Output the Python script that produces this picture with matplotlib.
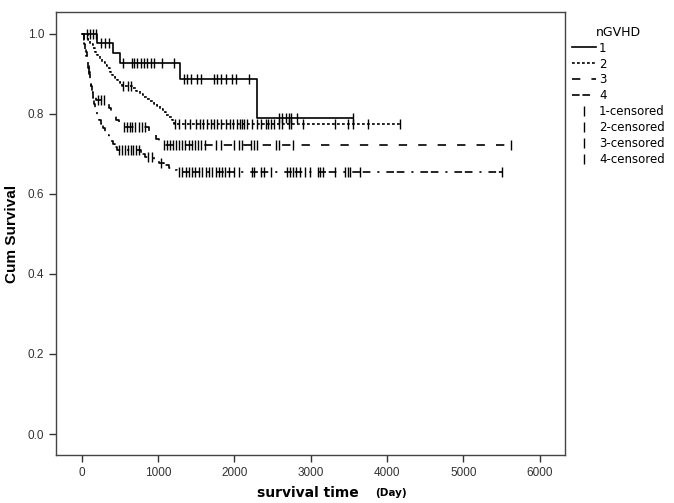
import numpy as np
import matplotlib
matplotlib.use("Agg")
import matplotlib.pyplot as plt
from matplotlib.lines import Line2D

plt.rcParams["lines.scale_dashes"] = False

# Kaplan-Meier step points (time in days, cum survival)
g1_times = [0, 195, 415, 495, 1290, 2290]
g1_surv = [1.0, 0.976, 0.952, 0.928, 0.887, 0.789]
g1_end = 3555
g1_cens = [65, 104, 143, 182, 250, 300, 350,
           534, 651, 690, 729, 781, 820, 859, 911, 950, 1055, 1211,
           1341, 1380, 1432, 1510, 1562, 1732, 1771, 1823, 1888, 1966, 2018, 2187,
           2578, 2617, 2669, 2708, 2747, 2825, 3555]

g2_times = [0, 78, 104, 143, 169, 195, 234, 260, 299, 326, 365, 391, 430, 456, 495, 521,
            664, 716, 768, 807, 859, 898, 950, 990, 1029, 1068, 1107, 1146, 1185, 1211]
g2_surv = [1.0, 0.985, 0.975, 0.965, 0.955, 0.948, 0.937, 0.93, 0.922, 0.915, 0.905, 0.898,
           0.89, 0.884, 0.876, 0.870, 0.865, 0.858, 0.85, 0.843, 0.838, 0.832, 0.826, 0.82,
           0.812, 0.806, 0.798, 0.792, 0.784, 0.776]
g2_end = 4166
g2_cens = [540, 600, 650,
           1224, 1276, 1354, 1419, 1497, 1549, 1588, 1641, 1693, 1732, 1771, 1823, 1888,
           1940, 1979, 2031, 2070, 2096, 2122, 2161, 2226, 2291, 2344, 2409, 2435, 2474,
           2513, 2578, 2617, 2708, 2747, 2903, 3320, 3489, 3554, 3750, 4166]

g3_times = [0, 26, 39, 52, 65, 78, 91, 104, 117, 130, 156, 182, 326, 352, 378, 404, 443,
            482, 521, 885, 924, 977, 1016, 1055]
g3_surv = [1.0, 0.985, 0.97, 0.955, 0.94, 0.92, 0.905, 0.885, 0.87, 0.855, 0.845, 0.835,
           0.825, 0.815, 0.805, 0.795, 0.785, 0.776, 0.768, 0.758, 0.748, 0.738, 0.73, 0.722]
g3_end = 5625
g3_cens = [208, 247, 286,
           547, 586, 625, 664, 703, 755, 794, 833,
           1081, 1120, 1159, 1198, 1237, 1276, 1315, 1354, 1406, 1445, 1484, 1523, 1562,
           1615, 1758, 1823, 1992, 2057, 2096, 2213, 2252, 2291, 2539, 2578, 2773, 5625]

g4_times = [0, 26, 39, 52, 65, 78, 91, 104, 117, 130, 143, 156, 169, 195, 221, 247, 273,
            299, 326, 352, 378, 404, 430, 456, 781, 833, 950, 1016, 1081, 1146, 1198, 1250]
g4_surv = [1.0, 0.975, 0.96, 0.945, 0.93, 0.915, 0.9, 0.885, 0.87, 0.855, 0.84, 0.825,
           0.81, 0.795, 0.785, 0.775, 0.765, 0.755, 0.748, 0.74, 0.732, 0.725, 0.718, 0.71,
           0.70, 0.692, 0.685, 0.678, 0.672, 0.666, 0.661, 0.656]
g4_end = 5508
g4_cens = [482, 521, 560, 599, 638, 677, 716, 755, 872, 924, 1042,
           1276, 1315, 1367, 1406, 1445, 1484, 1536, 1575, 1628, 1667, 1706, 1758, 1797,
           1836, 1875, 1927, 1992, 2057, 2226, 2252, 2344, 2383, 2474, 2682, 2734, 2773,
           2812, 2864, 2929, 2994, 3098, 3124, 3163, 3320, 3450, 3489, 3515, 3646, 5508]

groups = ["1", "2", "3", "4"]
styles = ["-", (0, (2, 1.6)), (0, (6, 8)), (0, (5.5, 2, 5.5, 5, 1.5, 5))]

fig = plt.figure(figsize=(6.74, 5.03), dpi=100)
ax = fig.add_axes([0.083, 0.0954, 0.755, 0.881])

data = [(g1_times, g1_surv, g1_end, g1_cens),
        (g2_times, g2_surv, g2_end, g2_cens),
        (g3_times, g3_surv, g3_end, g3_cens),
        (g4_times, g4_surv, g4_end, g4_cens)]

for (t, s, end, cens), ls in zip(data, styles):
    x = t + [end]
    y = s + [s[-1]]
    ax.step(x, y, where="post", color="black", lw=1.2, linestyle=ls)
    idx = np.searchsorted(t, cens, side="right") - 1
    ax.plot(cens, np.array(s)[idx], linestyle="none", marker="|", color="black",
            markersize=7, markeredgewidth=1.0)

ax.set_xlim(-339, 6328)
ax.set_ylim(-0.0525, 1.055)
ax.set_xticks(np.arange(0, 6001, 1000))
ax.set_yticks(np.arange(0, 1.01, 0.2))
ax.set_yticklabels(["%.1f" % v for v in np.arange(0, 1.01, 0.2)])
ax.tick_params(direction="out", length=5, width=1, colors="#333333", labelsize=8.5)
for lab in ax.get_xticklabels() + ax.get_yticklabels():
    lab.set_fontfamily("Liberation Sans")
for sp in ax.spines.values():
    sp.set_color("#444444")
    sp.set_linewidth(1.0)

ax.set_ylabel("Cum Survival", fontsize=11, fontweight="bold", family="Liberation Sans",
              labelpad=6)
fig.text(0.381, 0.02, "survival time", fontsize=10, fontweight="bold", ha="left", va="center")
fig.text(0.556, 0.02, "(Day)", fontsize=7.5, fontweight="bold", ha="left", va="center")

handles = [Line2D([], [], color="black", lw=1.2, linestyle=ls) for ls in styles]
handles += [Line2D([], [], color="black", linestyle="none", marker="|", markersize=7)
            for _ in groups]
labels = groups + [g + "-censored" for g in groups]
leg = ax.legend(handles, labels, loc="upper left", bbox_to_anchor=(1.0, 0.985),
                frameon=False, title="nGVHD", fontsize=8.5, title_fontsize=9,
                handlelength=2.0, handletextpad=0.3, labelspacing=0.25,
                borderaxespad=0.2)

fig.savefig("out.png", dpi=100)
